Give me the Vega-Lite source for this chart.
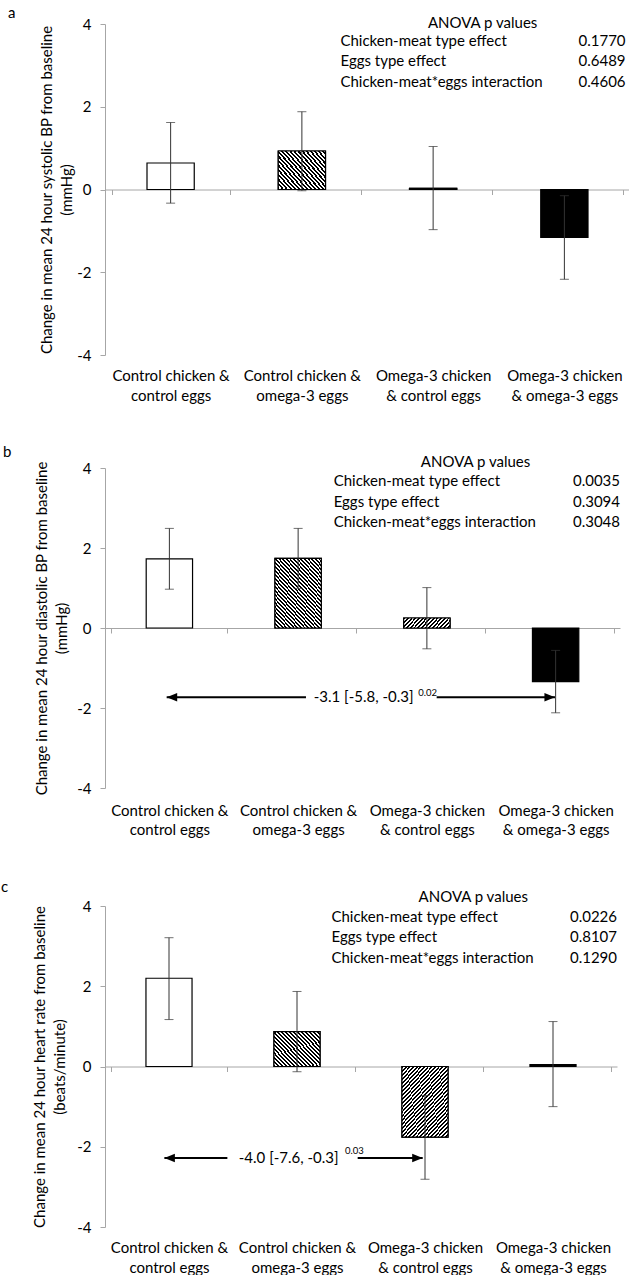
{
  "$schema": "https://vega.github.io/schema/vega-lite/v6.json",
  "background": "white",
  "padding": {"left": 0, "top": 5, "right": 0, "bottom": 0},
  "spacing": 41,
  "config": {
    "font": "Lato",
    "view": {"stroke": null},
    "axis": {"labelFont": "Lato", "titleFont": "Lato", "labelFontSize": 15, "titleFontSize": 15, "labelColor": "#000", "titleColor": "#000", "titleFontWeight": "normal", "domainColor": "#a6a6a6", "tickColor": "#a6a6a6", "grid": false, "labelOverlap": false},
    "title": {"font": "Lato", "fontSize": 15, "fontWeight": "normal", "anchor": "start", "frame": "bounds", "color": "#000", "dx": -32, "offset": -5},
    "text": {"font": "Lato", "fontSize": 15, "color": "#000"}
  },
  "datasets": {
    "a_bars": [
      {"group": "Control chicken & control eggs", "mean": 0.64, "lo": -0.33, "hi": 1.62},
      {"group": "Control chicken & omega-3 eggs", "mean": 0.93, "lo": -0.03, "hi": 1.88},
      {"group": "Omega-3 chicken & control eggs", "mean": 0.03, "lo": -0.97, "hi": 1.04},
      {"group": "Omega-3 chicken & omega-3 eggs", "mean": -1.16, "lo": -2.17, "hi": -0.15}
    ],
    "b_bars": [
      {"group": "Control chicken & control eggs", "mean": 1.73, "lo": 0.97, "hi": 2.49},
      {"group": "Control chicken & omega-3 eggs", "mean": 1.74, "lo": 0.99, "hi": 2.49},
      {"group": "Omega-3 chicken & control eggs", "mean": 0.25, "lo": -0.52, "hi": 1.01},
      {"group": "Omega-3 chicken & omega-3 eggs", "mean": -1.34, "lo": -2.12, "hi": -0.56}
    ],
    "c_bars": [
      {"group": "Control chicken & control eggs", "mean": 2.2, "lo": 1.17, "hi": 3.21},
      {"group": "Control chicken & omega-3 eggs", "mean": 0.87, "lo": -0.13, "hi": 1.87},
      {"group": "Omega-3 chicken & control eggs", "mean": -1.76, "lo": -2.81, "hi": -0.72},
      {"group": "Omega-3 chicken & omega-3 eggs", "mean": 0.05, "lo": -1.0, "hi": 1.12}
    ],
    "anova_title": [{"text": "ANOVA p values"}],
    "a_anova": [
      {"effect": "Chicken-meat type effect", "p": 0.177, "ty": 3.58},
      {"effect": "Eggs type effect", "p": 0.6489, "ty": 3.1},
      {"effect": "Chicken-meat*eggs interaction", "p": 0.4606, "ty": 2.6}
    ],
    "b_anova": [
      {"effect": "Chicken-meat type effect", "p": 0.0035, "ty": 3.67},
      {"effect": "Eggs type effect", "p": 0.3094, "ty": 3.16},
      {"effect": "Chicken-meat*eggs interaction", "p": 0.3048, "ty": 2.66}
    ],
    "c_anova": [
      {"effect": "Chicken-meat type effect", "p": 0.0226, "ty": 3.72},
      {"effect": "Eggs type effect", "p": 0.8107, "ty": 3.22},
      {"effect": "Chicken-meat*eggs interaction", "p": 0.129, "ty": 2.71}
    ],
    "b_lines": [
      {"x1": 0.479, "x2": 1.561, "ty": -1.73},
      {"x1": 2.576, "x2": 3.495, "ty": -1.73}
    ],
    "b_heads": [
      {"tx": 0.52, "ty": -1.73, "dir": "left"},
      {"tx": 3.454, "ty": -1.73, "dir": "right"}
    ],
    "b_note": [
      {"tx": 2.009, "ty": -1.73, "text": "-3.1 [-5.8, -0.3]", "p": "0.02", "px": 2.506, "py": -1.625}
    ],
    "c_lines": [
      {"x1": 0.464, "x2": 0.956, "ty": -2.28},
      {"x1": 1.974, "x2": 2.482, "ty": -2.28}
    ],
    "c_heads": [
      {"tx": 0.505, "ty": -2.28, "dir": "left"},
      {"tx": 2.441, "ty": -2.28, "dir": "right"}
    ],
    "c_note": [
      {"tx": 1.435, "ty": -2.28, "text": "-4.0 [-7.6, -0.3]", "p": "0.03", "px": 1.948, "py": -2.11}
    ]
  },
  "vconcat": [
    {
      "title": {"text": "a"},
      "width": 525, "height": 331,
      "resolve": {"scale": {"x": "independent"}},
      "layer": [
        {
          "data": {"name": "a_bars"},
          "encoding": {
            "x": {"field": "group", "type": "nominal", "sort": null,
              "scale": {"domain": ["Control chicken & control eggs", "Control chicken & omega-3 eggs", "Omega-3 chicken & control eggs", "Omega-3 chicken & omega-3 eggs"]},
              "axis": {"title": null, "offset": -165.5, "tickBand": "extent", "tickSize": 5, "labelPadding": 174, "labelAngle": 0, "labelBaseline": "top", "labelLineHeight": 19.5, "labelLimit": 0,
                "labelExpr": "datum.label === 'Control chicken & control eggs' ? ['Control chicken &', 'control eggs'] : datum.label === 'Control chicken & omega-3 eggs' ? ['Control chicken &', 'omega-3 eggs'] : datum.label === 'Omega-3 chicken & control eggs' ? ['Omega-3 chicken', '& control eggs'] : datum.label === 'Omega-3 chicken & omega-3 eggs' ? ['Omega-3 chicken', '& omega-3 eggs'] : ''"}}
          },
          "layer": [
            {"mark": {"type": "bar", "width": {"band": 0.4}, "stroke": "#000", "strokeWidth": 1.2},
             "encoding": {
               "y": {"field": "mean", "type": "quantitative", "scale": {"domain": [-4, 4], "nice": false},
                 "axis": {"title": ["Change in mean 24 hour systolic BP from baseline", "(mmHg)"], "values": [-4, -2, 0, 2, 4], "tickSize": 5, "labelPadding": 9, "titlePadding": 2.3, "titleLineHeight": 19.5, "labelExpr": "datum.value < 0 ? '-' + abs(datum.value) : '' + datum.value"}},
               "fill": {"condition": {"test": "datum.group === 'Omega-3 chicken & omega-3 eggs'", "value": "#000"}, "value": "#fff"}}},
            {"transform": [{"filter": "datum.group === 'Control chicken & omega-3 eggs'"}],
             "mark": {"type": "bar", "width": {"band": 0.4}, "stroke": "#000", "strokeWidth": 1.2,
               "fill": {"gradient": "linear", "x1": 0, "y1": 1, "x2": 1.136, "y2": 0.19, "stops": [{"offset":0,"color":"#000"},{"offset":0.025,"color":"#000"},{"offset":0.025,"color":"#fff"},{"offset":0.05,"color":"#fff"},{"offset":0.05,"color":"#000"},{"offset":0.075,"color":"#000"},{"offset":0.075,"color":"#fff"},{"offset":0.1,"color":"#fff"},{"offset":0.1,"color":"#000"},{"offset":0.125,"color":"#000"},{"offset":0.125,"color":"#fff"},{"offset":0.15,"color":"#fff"},{"offset":0.15,"color":"#000"},{"offset":0.175,"color":"#000"},{"offset":0.175,"color":"#fff"},{"offset":0.2,"color":"#fff"},{"offset":0.2,"color":"#000"},{"offset":0.225,"color":"#000"},{"offset":0.225,"color":"#fff"},{"offset":0.25,"color":"#fff"},{"offset":0.25,"color":"#000"},{"offset":0.275,"color":"#000"},{"offset":0.275,"color":"#fff"},{"offset":0.3,"color":"#fff"},{"offset":0.3,"color":"#000"},{"offset":0.325,"color":"#000"},{"offset":0.325,"color":"#fff"},{"offset":0.35,"color":"#fff"},{"offset":0.35,"color":"#000"},{"offset":0.375,"color":"#000"},{"offset":0.375,"color":"#fff"},{"offset":0.4,"color":"#fff"},{"offset":0.4,"color":"#000"},{"offset":0.425,"color":"#000"},{"offset":0.425,"color":"#fff"},{"offset":0.45,"color":"#fff"},{"offset":0.45,"color":"#000"},{"offset":0.475,"color":"#000"},{"offset":0.475,"color":"#fff"},{"offset":0.5,"color":"#fff"},{"offset":0.5,"color":"#000"},{"offset":0.525,"color":"#000"},{"offset":0.525,"color":"#fff"},{"offset":0.55,"color":"#fff"},{"offset":0.55,"color":"#000"},{"offset":0.575,"color":"#000"},{"offset":0.575,"color":"#fff"},{"offset":0.6,"color":"#fff"},{"offset":0.6,"color":"#000"},{"offset":0.625,"color":"#000"},{"offset":0.625,"color":"#fff"},{"offset":0.65,"color":"#fff"},{"offset":0.65,"color":"#000"},{"offset":0.675,"color":"#000"},{"offset":0.675,"color":"#fff"},{"offset":0.7,"color":"#fff"},{"offset":0.7,"color":"#000"},{"offset":0.725,"color":"#000"},{"offset":0.725,"color":"#fff"},{"offset":0.75,"color":"#fff"},{"offset":0.75,"color":"#000"},{"offset":0.775,"color":"#000"},{"offset":0.775,"color":"#fff"},{"offset":0.8,"color":"#fff"},{"offset":0.8,"color":"#000"},{"offset":0.825,"color":"#000"},{"offset":0.825,"color":"#fff"},{"offset":0.85,"color":"#fff"},{"offset":0.85,"color":"#000"},{"offset":0.875,"color":"#000"},{"offset":0.875,"color":"#fff"},{"offset":0.9,"color":"#fff"},{"offset":0.9,"color":"#000"},{"offset":0.925,"color":"#000"},{"offset":0.925,"color":"#fff"},{"offset":0.95,"color":"#fff"},{"offset":0.95,"color":"#000"},{"offset":0.975,"color":"#000"},{"offset":0.975,"color":"#fff"},{"offset":1,"color":"#fff"}]}},
             "encoding": {"y": {"field": "mean", "type": "quantitative"}}},
            {"transform": [{"filter": "datum.group === 'Omega-3 chicken & control eggs'"}],
             "mark": {"type": "bar", "width": {"band": 0.4}, "stroke": "#000", "strokeWidth": 1.2, "fill": "#000"},
             "encoding": {"y": {"field": "mean", "type": "quantitative"}}},
            {"mark": {"type": "rule", "color": "#333", "strokeWidth": 1},
             "encoding": {"y": {"field": "lo", "type": "quantitative"}, "y2": {"field": "hi"}}},
            {"mark": {"type": "tick", "color": "#333", "thickness": 1, "size": 9},
             "encoding": {"y": {"field": "lo", "type": "quantitative"}}},
            {"mark": {"type": "tick", "color": "#333", "thickness": 1, "size": 9},
             "encoding": {"y": {"field": "hi", "type": "quantitative"}}}
          ]
        },
        {
          "layer": [
            {"data": {"name": "anova_title"},
             "mark": {"type": "text", "align": "center", "baseline": "middle"},
             "encoding": {
               "x": {"datum": 2.877, "type": "quantitative", "scale": {"domain": [0, 4], "nice": false, "zero": false}, "axis": null},
               "y": {"datum": 4.03, "type": "quantitative"},
               "text": {"field": "text"}}},
            {"data": {"name": "a_anova"},
             "mark": {"type": "text", "align": "left", "baseline": "middle"},
             "encoding": {
               "x": {"datum": 1.794, "type": "quantitative", "axis": null},
               "y": {"field": "ty", "type": "quantitative"},
               "text": {"field": "effect"}}},
            {"data": {"name": "a_anova"},
             "mark": {"type": "text", "align": "right", "baseline": "middle"},
             "encoding": {
               "x": {"datum": 3.966, "type": "quantitative", "axis": null},
               "y": {"field": "ty", "type": "quantitative"},
               "text": {"field": "p", "format": ".4f"}}}
          ]
        }
      ]
    },
    {
      "title": {"text": "b"},
      "width": 515, "height": 320,
      "resolve": {"scale": {"x": "independent"}},
      "layer": [
        {
          "data": {"name": "b_bars"},
          "encoding": {
            "x": {"field": "group", "type": "nominal", "sort": null,
              "scale": {"domain": ["Control chicken & control eggs", "Control chicken & omega-3 eggs", "Omega-3 chicken & control eggs", "Omega-3 chicken & omega-3 eggs"]},
              "axis": {"title": null, "offset": -160, "tickBand": "extent", "tickSize": 5, "labelPadding": 170, "labelAngle": 0, "labelBaseline": "top", "labelLineHeight": 19.5, "labelLimit": 0,
                "labelExpr": "datum.label === 'Control chicken & control eggs' ? ['Control chicken &', 'control eggs'] : datum.label === 'Control chicken & omega-3 eggs' ? ['Control chicken &', 'omega-3 eggs'] : datum.label === 'Omega-3 chicken & control eggs' ? ['Omega-3 chicken', '& control eggs'] : datum.label === 'Omega-3 chicken & omega-3 eggs' ? ['Omega-3 chicken', '& omega-3 eggs'] : ''"}}
          },
          "layer": [
            {"mark": {"type": "bar", "width": {"band": 0.4}, "stroke": "#000", "strokeWidth": 1.2},
             "encoding": {
               "y": {"field": "mean", "type": "quantitative", "scale": {"domain": [-4, 4], "nice": false},
                 "axis": {"title": ["Change in mean 24 hour diastolic BP from baseline", "(mmHg)"], "values": [-4, -2, 0, 2, 4], "tickSize": 5, "labelPadding": 9, "titlePadding": 7.3, "titleLineHeight": 19.5, "labelExpr": "datum.value < 0 ? '-' + abs(datum.value) : '' + datum.value"}},
               "fill": {"condition": {"test": "datum.group === 'Omega-3 chicken & omega-3 eggs'", "value": "#000"}, "value": "#fff"}}},
            {"transform": [{"filter": "datum.group === 'Control chicken & omega-3 eggs'"}],
             "mark": {"type": "bar", "width": {"band": 0.4}, "stroke": "#000", "strokeWidth": 1.2,
               "fill": {"gradient": "linear", "x1": 0, "y1": 1, "x2": 0.832, "y2": -0.124, "stops": [{"offset":0,"color":"#000"},{"offset":0.0167,"color":"#000"},{"offset":0.0167,"color":"#fff"},{"offset":0.0333,"color":"#fff"},{"offset":0.0333,"color":"#000"},{"offset":0.05,"color":"#000"},{"offset":0.05,"color":"#fff"},{"offset":0.0667,"color":"#fff"},{"offset":0.0667,"color":"#000"},{"offset":0.0833,"color":"#000"},{"offset":0.0833,"color":"#fff"},{"offset":0.1,"color":"#fff"},{"offset":0.1,"color":"#000"},{"offset":0.1167,"color":"#000"},{"offset":0.1167,"color":"#fff"},{"offset":0.1333,"color":"#fff"},{"offset":0.1333,"color":"#000"},{"offset":0.15,"color":"#000"},{"offset":0.15,"color":"#fff"},{"offset":0.1667,"color":"#fff"},{"offset":0.1667,"color":"#000"},{"offset":0.1833,"color":"#000"},{"offset":0.1833,"color":"#fff"},{"offset":0.2,"color":"#fff"},{"offset":0.2,"color":"#000"},{"offset":0.2167,"color":"#000"},{"offset":0.2167,"color":"#fff"},{"offset":0.2333,"color":"#fff"},{"offset":0.2333,"color":"#000"},{"offset":0.25,"color":"#000"},{"offset":0.25,"color":"#fff"},{"offset":0.2667,"color":"#fff"},{"offset":0.2667,"color":"#000"},{"offset":0.2833,"color":"#000"},{"offset":0.2833,"color":"#fff"},{"offset":0.3,"color":"#fff"},{"offset":0.3,"color":"#000"},{"offset":0.3167,"color":"#000"},{"offset":0.3167,"color":"#fff"},{"offset":0.3333,"color":"#fff"},{"offset":0.3333,"color":"#000"},{"offset":0.35,"color":"#000"},{"offset":0.35,"color":"#fff"},{"offset":0.3667,"color":"#fff"},{"offset":0.3667,"color":"#000"},{"offset":0.3833,"color":"#000"},{"offset":0.3833,"color":"#fff"},{"offset":0.4,"color":"#fff"},{"offset":0.4,"color":"#000"},{"offset":0.4167,"color":"#000"},{"offset":0.4167,"color":"#fff"},{"offset":0.4333,"color":"#fff"},{"offset":0.4333,"color":"#000"},{"offset":0.45,"color":"#000"},{"offset":0.45,"color":"#fff"},{"offset":0.4667,"color":"#fff"},{"offset":0.4667,"color":"#000"},{"offset":0.4833,"color":"#000"},{"offset":0.4833,"color":"#fff"},{"offset":0.5,"color":"#fff"},{"offset":0.5,"color":"#000"},{"offset":0.5167,"color":"#000"},{"offset":0.5167,"color":"#fff"},{"offset":0.5333,"color":"#fff"},{"offset":0.5333,"color":"#000"},{"offset":0.55,"color":"#000"},{"offset":0.55,"color":"#fff"},{"offset":0.5667,"color":"#fff"},{"offset":0.5667,"color":"#000"},{"offset":0.5833,"color":"#000"},{"offset":0.5833,"color":"#fff"},{"offset":0.6,"color":"#fff"},{"offset":0.6,"color":"#000"},{"offset":0.6167,"color":"#000"},{"offset":0.6167,"color":"#fff"},{"offset":0.6333,"color":"#fff"},{"offset":0.6333,"color":"#000"},{"offset":0.65,"color":"#000"},{"offset":0.65,"color":"#fff"},{"offset":0.6667,"color":"#fff"},{"offset":0.6667,"color":"#000"},{"offset":0.6833,"color":"#000"},{"offset":0.6833,"color":"#fff"},{"offset":0.7,"color":"#fff"},{"offset":0.7,"color":"#000"},{"offset":0.7167,"color":"#000"},{"offset":0.7167,"color":"#fff"},{"offset":0.7333,"color":"#fff"},{"offset":0.7333,"color":"#000"},{"offset":0.75,"color":"#000"},{"offset":0.75,"color":"#fff"},{"offset":0.7667,"color":"#fff"},{"offset":0.7667,"color":"#000"},{"offset":0.7833,"color":"#000"},{"offset":0.7833,"color":"#fff"},{"offset":0.8,"color":"#fff"},{"offset":0.8,"color":"#000"},{"offset":0.8167,"color":"#000"},{"offset":0.8167,"color":"#fff"},{"offset":0.8333,"color":"#fff"},{"offset":0.8333,"color":"#000"},{"offset":0.85,"color":"#000"},{"offset":0.85,"color":"#fff"},{"offset":0.8667,"color":"#fff"},{"offset":0.8667,"color":"#000"},{"offset":0.8833,"color":"#000"},{"offset":0.8833,"color":"#fff"},{"offset":0.9,"color":"#fff"},{"offset":0.9,"color":"#000"},{"offset":0.9167,"color":"#000"},{"offset":0.9167,"color":"#fff"},{"offset":0.9333,"color":"#fff"},{"offset":0.9333,"color":"#000"},{"offset":0.95,"color":"#000"},{"offset":0.95,"color":"#fff"},{"offset":0.9667,"color":"#fff"},{"offset":0.9667,"color":"#000"},{"offset":0.9833,"color":"#000"},{"offset":0.9833,"color":"#fff"},{"offset":1,"color":"#fff"}]}},
             "encoding": {"y": {"field": "mean", "type": "quantitative"}}},
            {"transform": [{"filter": "datum.group === 'Omega-3 chicken & control eggs'"}],
             "mark": {"type": "bar", "width": {"band": 0.4}, "stroke": "#000", "strokeWidth": 1.2,
               "fill": {"gradient": "linear", "x1": 0, "y1": 0, "x2": 1.151, "y2": 0.2235, "stops": [{"offset":0,"color":"#000"},{"offset":0.0333,"color":"#000"},{"offset":0.0333,"color":"#fff"},{"offset":0.0667,"color":"#fff"},{"offset":0.0667,"color":"#000"},{"offset":0.1,"color":"#000"},{"offset":0.1,"color":"#fff"},{"offset":0.1333,"color":"#fff"},{"offset":0.1333,"color":"#000"},{"offset":0.1667,"color":"#000"},{"offset":0.1667,"color":"#fff"},{"offset":0.2,"color":"#fff"},{"offset":0.2,"color":"#000"},{"offset":0.2333,"color":"#000"},{"offset":0.2333,"color":"#fff"},{"offset":0.2667,"color":"#fff"},{"offset":0.2667,"color":"#000"},{"offset":0.3,"color":"#000"},{"offset":0.3,"color":"#fff"},{"offset":0.3333,"color":"#fff"},{"offset":0.3333,"color":"#000"},{"offset":0.3667,"color":"#000"},{"offset":0.3667,"color":"#fff"},{"offset":0.4,"color":"#fff"},{"offset":0.4,"color":"#000"},{"offset":0.4333,"color":"#000"},{"offset":0.4333,"color":"#fff"},{"offset":0.4667,"color":"#fff"},{"offset":0.4667,"color":"#000"},{"offset":0.5,"color":"#000"},{"offset":0.5,"color":"#fff"},{"offset":0.5333,"color":"#fff"},{"offset":0.5333,"color":"#000"},{"offset":0.5667,"color":"#000"},{"offset":0.5667,"color":"#fff"},{"offset":0.6,"color":"#fff"},{"offset":0.6,"color":"#000"},{"offset":0.6333,"color":"#000"},{"offset":0.6333,"color":"#fff"},{"offset":0.6667,"color":"#fff"},{"offset":0.6667,"color":"#000"},{"offset":0.7,"color":"#000"},{"offset":0.7,"color":"#fff"},{"offset":0.7333,"color":"#fff"},{"offset":0.7333,"color":"#000"},{"offset":0.7667,"color":"#000"},{"offset":0.7667,"color":"#fff"},{"offset":0.8,"color":"#fff"},{"offset":0.8,"color":"#000"},{"offset":0.8333,"color":"#000"},{"offset":0.8333,"color":"#fff"},{"offset":0.8667,"color":"#fff"},{"offset":0.8667,"color":"#000"},{"offset":0.9,"color":"#000"},{"offset":0.9,"color":"#fff"},{"offset":0.9333,"color":"#fff"},{"offset":0.9333,"color":"#000"},{"offset":0.9667,"color":"#000"},{"offset":0.9667,"color":"#fff"},{"offset":1,"color":"#fff"}]}},
             "encoding": {"y": {"field": "mean", "type": "quantitative"}}},
            {"mark": {"type": "rule", "color": "#333", "strokeWidth": 1},
             "encoding": {"y": {"field": "lo", "type": "quantitative"}, "y2": {"field": "hi"}}},
            {"mark": {"type": "tick", "color": "#333", "thickness": 1, "size": 9},
             "encoding": {"y": {"field": "lo", "type": "quantitative"}}},
            {"mark": {"type": "tick", "color": "#333", "thickness": 1, "size": 9},
             "encoding": {"y": {"field": "hi", "type": "quantitative"}}}
          ]
        },
        {
          "layer": [
            {"data": {"name": "anova_title"},
             "mark": {"type": "text", "align": "center", "baseline": "middle"},
             "encoding": {
               "x": {"datum": 2.878, "type": "quantitative", "scale": {"domain": [0, 4], "nice": false, "zero": false}, "axis": null},
               "y": {"datum": 4.16, "type": "quantitative"},
               "text": {"field": "text"}}},
            {"data": {"name": "b_anova"},
             "mark": {"type": "text", "align": "left", "baseline": "middle"},
             "encoding": {
               "x": {"datum": 1.776, "type": "quantitative", "axis": null},
               "y": {"field": "ty", "type": "quantitative"},
               "text": {"field": "effect"}}},
            {"data": {"name": "b_anova"},
             "mark": {"type": "text", "align": "right", "baseline": "middle"},
             "encoding": {
               "x": {"datum": 4.0, "type": "quantitative", "axis": null},
               "y": {"field": "ty", "type": "quantitative"},
               "text": {"field": "p", "format": ".4f"}}},
            {"data": {"name": "b_lines"},
             "mark": {"type": "rule", "color": "#000", "strokeWidth": 2},
             "encoding": {
               "x": {"field": "x1", "type": "quantitative", "axis": null},
               "x2": {"field": "x2"},
               "y": {"field": "ty", "type": "quantitative"}}},
            {"data": {"name": "b_heads"},
             "mark": {"type": "point", "filled": true, "color": "#000", "opacity": 1, "size": 110, "strokeWidth": 0},
             "encoding": {
               "x": {"field": "tx", "type": "quantitative", "axis": null},
               "y": {"field": "ty", "type": "quantitative"},
               "shape": {"field": "dir", "type": "nominal", "legend": null, "scale": {"domain": ["left", "right"], "range": ["M -1 0 L 1 -0.8 L 1 0.8 Z", "M 1 0 L -1 -0.8 L -1 0.8 Z"]}}}},
            {"data": {"name": "b_note"},
             "mark": {"type": "text", "align": "center", "baseline": "middle"},
             "encoding": {
               "x": {"field": "tx", "type": "quantitative", "axis": null},
               "y": {"field": "ty", "type": "quantitative"},
               "text": {"field": "text"}}},
            {"data": {"name": "b_note"},
             "mark": {"type": "text", "align": "center", "baseline": "middle", "fontSize": 9.5},
             "encoding": {
               "x": {"field": "px", "type": "quantitative", "axis": null},
               "y": {"field": "py", "type": "quantitative"},
               "text": {"field": "p"}}}
          ]
        }
      ]
    },
    {
      "title": {"text": "c"},
      "width": 512, "height": 321,
      "resolve": {"scale": {"x": "independent"}},
      "layer": [
        {
          "data": {"name": "c_bars"},
          "encoding": {
            "x": {"field": "group", "type": "nominal", "sort": null,
              "scale": {"domain": ["Control chicken & control eggs", "Control chicken & omega-3 eggs", "Omega-3 chicken & control eggs", "Omega-3 chicken & omega-3 eggs"]},
              "axis": {"title": null, "offset": -160.5, "tickBand": "extent", "tickSize": 5, "labelPadding": 169, "labelAngle": 0, "labelBaseline": "top", "labelLineHeight": 19.5, "labelLimit": 0,
                "labelExpr": "datum.label === 'Control chicken & control eggs' ? ['Control chicken &', 'control eggs'] : datum.label === 'Control chicken & omega-3 eggs' ? ['Control chicken &', 'omega-3 eggs'] : datum.label === 'Omega-3 chicken & control eggs' ? ['Omega-3 chicken', '& control eggs'] : datum.label === 'Omega-3 chicken & omega-3 eggs' ? ['Omega-3 chicken', '& omega-3 eggs'] : ''"}}
          },
          "layer": [
            {"mark": {"type": "bar", "width": {"band": 0.4}, "stroke": "#000", "strokeWidth": 1.2},
             "encoding": {
               "y": {"field": "mean", "type": "quantitative", "scale": {"domain": [-4, 4], "nice": false},
                 "axis": {"title": ["Change in mean 24 hour heart rate from baseline", "(beats/minute)"], "values": [-4, -2, 0, 2, 4], "tickSize": 5, "labelPadding": 9, "titlePadding": 9.3, "titleLineHeight": 19.5, "labelExpr": "datum.value < 0 ? '-' + abs(datum.value) : '' + datum.value"}},
               "fill": {"condition": {"test": "datum.group === 'Omega-3 chicken & omega-3 eggs'", "value": "#000"}, "value": "#fff"}}},
            {"transform": [{"filter": "datum.group === 'Control chicken & omega-3 eggs'"}],
             "mark": {"type": "bar", "width": {"band": 0.4}, "stroke": "#000", "strokeWidth": 1.2,
               "fill": {"gradient": "linear", "x1": 0, "y1": 1, "x2": 1.136, "y2": 0.19, "stops": [{"offset":0,"color":"#000"},{"offset":0.025,"color":"#000"},{"offset":0.025,"color":"#fff"},{"offset":0.05,"color":"#fff"},{"offset":0.05,"color":"#000"},{"offset":0.075,"color":"#000"},{"offset":0.075,"color":"#fff"},{"offset":0.1,"color":"#fff"},{"offset":0.1,"color":"#000"},{"offset":0.125,"color":"#000"},{"offset":0.125,"color":"#fff"},{"offset":0.15,"color":"#fff"},{"offset":0.15,"color":"#000"},{"offset":0.175,"color":"#000"},{"offset":0.175,"color":"#fff"},{"offset":0.2,"color":"#fff"},{"offset":0.2,"color":"#000"},{"offset":0.225,"color":"#000"},{"offset":0.225,"color":"#fff"},{"offset":0.25,"color":"#fff"},{"offset":0.25,"color":"#000"},{"offset":0.275,"color":"#000"},{"offset":0.275,"color":"#fff"},{"offset":0.3,"color":"#fff"},{"offset":0.3,"color":"#000"},{"offset":0.325,"color":"#000"},{"offset":0.325,"color":"#fff"},{"offset":0.35,"color":"#fff"},{"offset":0.35,"color":"#000"},{"offset":0.375,"color":"#000"},{"offset":0.375,"color":"#fff"},{"offset":0.4,"color":"#fff"},{"offset":0.4,"color":"#000"},{"offset":0.425,"color":"#000"},{"offset":0.425,"color":"#fff"},{"offset":0.45,"color":"#fff"},{"offset":0.45,"color":"#000"},{"offset":0.475,"color":"#000"},{"offset":0.475,"color":"#fff"},{"offset":0.5,"color":"#fff"},{"offset":0.5,"color":"#000"},{"offset":0.525,"color":"#000"},{"offset":0.525,"color":"#fff"},{"offset":0.55,"color":"#fff"},{"offset":0.55,"color":"#000"},{"offset":0.575,"color":"#000"},{"offset":0.575,"color":"#fff"},{"offset":0.6,"color":"#fff"},{"offset":0.6,"color":"#000"},{"offset":0.625,"color":"#000"},{"offset":0.625,"color":"#fff"},{"offset":0.65,"color":"#fff"},{"offset":0.65,"color":"#000"},{"offset":0.675,"color":"#000"},{"offset":0.675,"color":"#fff"},{"offset":0.7,"color":"#fff"},{"offset":0.7,"color":"#000"},{"offset":0.725,"color":"#000"},{"offset":0.725,"color":"#fff"},{"offset":0.75,"color":"#fff"},{"offset":0.75,"color":"#000"},{"offset":0.775,"color":"#000"},{"offset":0.775,"color":"#fff"},{"offset":0.8,"color":"#fff"},{"offset":0.8,"color":"#000"},{"offset":0.825,"color":"#000"},{"offset":0.825,"color":"#fff"},{"offset":0.85,"color":"#fff"},{"offset":0.85,"color":"#000"},{"offset":0.875,"color":"#000"},{"offset":0.875,"color":"#fff"},{"offset":0.9,"color":"#fff"},{"offset":0.9,"color":"#000"},{"offset":0.925,"color":"#000"},{"offset":0.925,"color":"#fff"},{"offset":0.95,"color":"#fff"},{"offset":0.95,"color":"#000"},{"offset":0.975,"color":"#000"},{"offset":0.975,"color":"#fff"},{"offset":1,"color":"#fff"}]}},
             "encoding": {"y": {"field": "mean", "type": "quantitative"}}},
            {"transform": [{"filter": "datum.group === 'Omega-3 chicken & control eggs'"}],
             "mark": {"type": "bar", "width": {"band": 0.4}, "stroke": "#000", "strokeWidth": 1.2,
               "fill": {"gradient": "linear", "x1": 0, "y1": 0, "x2": 0.82, "y2": 1.131, "stops": [{"offset":0,"color":"#000"},{"offset":0.0167,"color":"#000"},{"offset":0.0167,"color":"#fff"},{"offset":0.0333,"color":"#fff"},{"offset":0.0333,"color":"#000"},{"offset":0.05,"color":"#000"},{"offset":0.05,"color":"#fff"},{"offset":0.0667,"color":"#fff"},{"offset":0.0667,"color":"#000"},{"offset":0.0833,"color":"#000"},{"offset":0.0833,"color":"#fff"},{"offset":0.1,"color":"#fff"},{"offset":0.1,"color":"#000"},{"offset":0.1167,"color":"#000"},{"offset":0.1167,"color":"#fff"},{"offset":0.1333,"color":"#fff"},{"offset":0.1333,"color":"#000"},{"offset":0.15,"color":"#000"},{"offset":0.15,"color":"#fff"},{"offset":0.1667,"color":"#fff"},{"offset":0.1667,"color":"#000"},{"offset":0.1833,"color":"#000"},{"offset":0.1833,"color":"#fff"},{"offset":0.2,"color":"#fff"},{"offset":0.2,"color":"#000"},{"offset":0.2167,"color":"#000"},{"offset":0.2167,"color":"#fff"},{"offset":0.2333,"color":"#fff"},{"offset":0.2333,"color":"#000"},{"offset":0.25,"color":"#000"},{"offset":0.25,"color":"#fff"},{"offset":0.2667,"color":"#fff"},{"offset":0.2667,"color":"#000"},{"offset":0.2833,"color":"#000"},{"offset":0.2833,"color":"#fff"},{"offset":0.3,"color":"#fff"},{"offset":0.3,"color":"#000"},{"offset":0.3167,"color":"#000"},{"offset":0.3167,"color":"#fff"},{"offset":0.3333,"color":"#fff"},{"offset":0.3333,"color":"#000"},{"offset":0.35,"color":"#000"},{"offset":0.35,"color":"#fff"},{"offset":0.3667,"color":"#fff"},{"offset":0.3667,"color":"#000"},{"offset":0.3833,"color":"#000"},{"offset":0.3833,"color":"#fff"},{"offset":0.4,"color":"#fff"},{"offset":0.4,"color":"#000"},{"offset":0.4167,"color":"#000"},{"offset":0.4167,"color":"#fff"},{"offset":0.4333,"color":"#fff"},{"offset":0.4333,"color":"#000"},{"offset":0.45,"color":"#000"},{"offset":0.45,"color":"#fff"},{"offset":0.4667,"color":"#fff"},{"offset":0.4667,"color":"#000"},{"offset":0.4833,"color":"#000"},{"offset":0.4833,"color":"#fff"},{"offset":0.5,"color":"#fff"},{"offset":0.5,"color":"#000"},{"offset":0.5167,"color":"#000"},{"offset":0.5167,"color":"#fff"},{"offset":0.5333,"color":"#fff"},{"offset":0.5333,"color":"#000"},{"offset":0.55,"color":"#000"},{"offset":0.55,"color":"#fff"},{"offset":0.5667,"color":"#fff"},{"offset":0.5667,"color":"#000"},{"offset":0.5833,"color":"#000"},{"offset":0.5833,"color":"#fff"},{"offset":0.6,"color":"#fff"},{"offset":0.6,"color":"#000"},{"offset":0.6167,"color":"#000"},{"offset":0.6167,"color":"#fff"},{"offset":0.6333,"color":"#fff"},{"offset":0.6333,"color":"#000"},{"offset":0.65,"color":"#000"},{"offset":0.65,"color":"#fff"},{"offset":0.6667,"color":"#fff"},{"offset":0.6667,"color":"#000"},{"offset":0.6833,"color":"#000"},{"offset":0.6833,"color":"#fff"},{"offset":0.7,"color":"#fff"},{"offset":0.7,"color":"#000"},{"offset":0.7167,"color":"#000"},{"offset":0.7167,"color":"#fff"},{"offset":0.7333,"color":"#fff"},{"offset":0.7333,"color":"#000"},{"offset":0.75,"color":"#000"},{"offset":0.75,"color":"#fff"},{"offset":0.7667,"color":"#fff"},{"offset":0.7667,"color":"#000"},{"offset":0.7833,"color":"#000"},{"offset":0.7833,"color":"#fff"},{"offset":0.8,"color":"#fff"},{"offset":0.8,"color":"#000"},{"offset":0.8167,"color":"#000"},{"offset":0.8167,"color":"#fff"},{"offset":0.8333,"color":"#fff"},{"offset":0.8333,"color":"#000"},{"offset":0.85,"color":"#000"},{"offset":0.85,"color":"#fff"},{"offset":0.8667,"color":"#fff"},{"offset":0.8667,"color":"#000"},{"offset":0.8833,"color":"#000"},{"offset":0.8833,"color":"#fff"},{"offset":0.9,"color":"#fff"},{"offset":0.9,"color":"#000"},{"offset":0.9167,"color":"#000"},{"offset":0.9167,"color":"#fff"},{"offset":0.9333,"color":"#fff"},{"offset":0.9333,"color":"#000"},{"offset":0.95,"color":"#000"},{"offset":0.95,"color":"#fff"},{"offset":0.9667,"color":"#fff"},{"offset":0.9667,"color":"#000"},{"offset":0.9833,"color":"#000"},{"offset":0.9833,"color":"#fff"},{"offset":1,"color":"#fff"}]}},
             "encoding": {"y": {"field": "mean", "type": "quantitative"}}},
            {"mark": {"type": "rule", "color": "#333", "strokeWidth": 1},
             "encoding": {"y": {"field": "lo", "type": "quantitative"}, "y2": {"field": "hi"}}},
            {"mark": {"type": "tick", "color": "#333", "thickness": 1, "size": 9},
             "encoding": {"y": {"field": "lo", "type": "quantitative"}}},
            {"mark": {"type": "tick", "color": "#333", "thickness": 1, "size": 9},
             "encoding": {"y": {"field": "hi", "type": "quantitative"}}}
          ]
        },
        {
          "layer": [
            {"data": {"name": "anova_title"},
             "mark": {"type": "text", "align": "center", "baseline": "middle"},
             "encoding": {
               "x": {"datum": 2.877, "type": "quantitative", "scale": {"domain": [0, 4], "nice": false, "zero": false}, "axis": null},
               "y": {"datum": 4.23, "type": "quantitative"},
               "text": {"field": "text"}}},
            {"data": {"name": "c_anova"},
             "mark": {"type": "text", "align": "left", "baseline": "middle"},
             "encoding": {
               "x": {"datum": 1.769, "type": "quantitative", "axis": null},
               "y": {"field": "ty", "type": "quantitative"},
               "text": {"field": "effect"}}},
            {"data": {"name": "c_anova"},
             "mark": {"type": "text", "align": "right", "baseline": "middle"},
             "encoding": {
               "x": {"datum": 4.0, "type": "quantitative", "axis": null},
               "y": {"field": "ty", "type": "quantitative"},
               "text": {"field": "p", "format": ".4f"}}},
            {"data": {"name": "c_lines"},
             "mark": {"type": "rule", "color": "#000", "strokeWidth": 2},
             "encoding": {
               "x": {"field": "x1", "type": "quantitative", "axis": null},
               "x2": {"field": "x2"},
               "y": {"field": "ty", "type": "quantitative"}}},
            {"data": {"name": "c_heads"},
             "mark": {"type": "point", "filled": true, "color": "#000", "opacity": 1, "size": 110, "strokeWidth": 0},
             "encoding": {
               "x": {"field": "tx", "type": "quantitative", "axis": null},
               "y": {"field": "ty", "type": "quantitative"},
               "shape": {"field": "dir", "type": "nominal", "legend": null, "scale": {"domain": ["left", "right"], "range": ["M -1 0 L 1 -0.8 L 1 0.8 Z", "M 1 0 L -1 -0.8 L -1 0.8 Z"]}}}},
            {"data": {"name": "c_note"},
             "mark": {"type": "text", "align": "center", "baseline": "middle"},
             "encoding": {
               "x": {"field": "tx", "type": "quantitative", "axis": null},
               "y": {"field": "ty", "type": "quantitative"},
               "text": {"field": "text"}}},
            {"data": {"name": "c_note"},
             "mark": {"type": "text", "align": "center", "baseline": "middle", "fontSize": 9.5},
             "encoding": {
               "x": {"field": "px", "type": "quantitative", "axis": null},
               "y": {"field": "py", "type": "quantitative"},
               "text": {"field": "p"}}}
          ]
        }
      ]
    }
  ]
}
